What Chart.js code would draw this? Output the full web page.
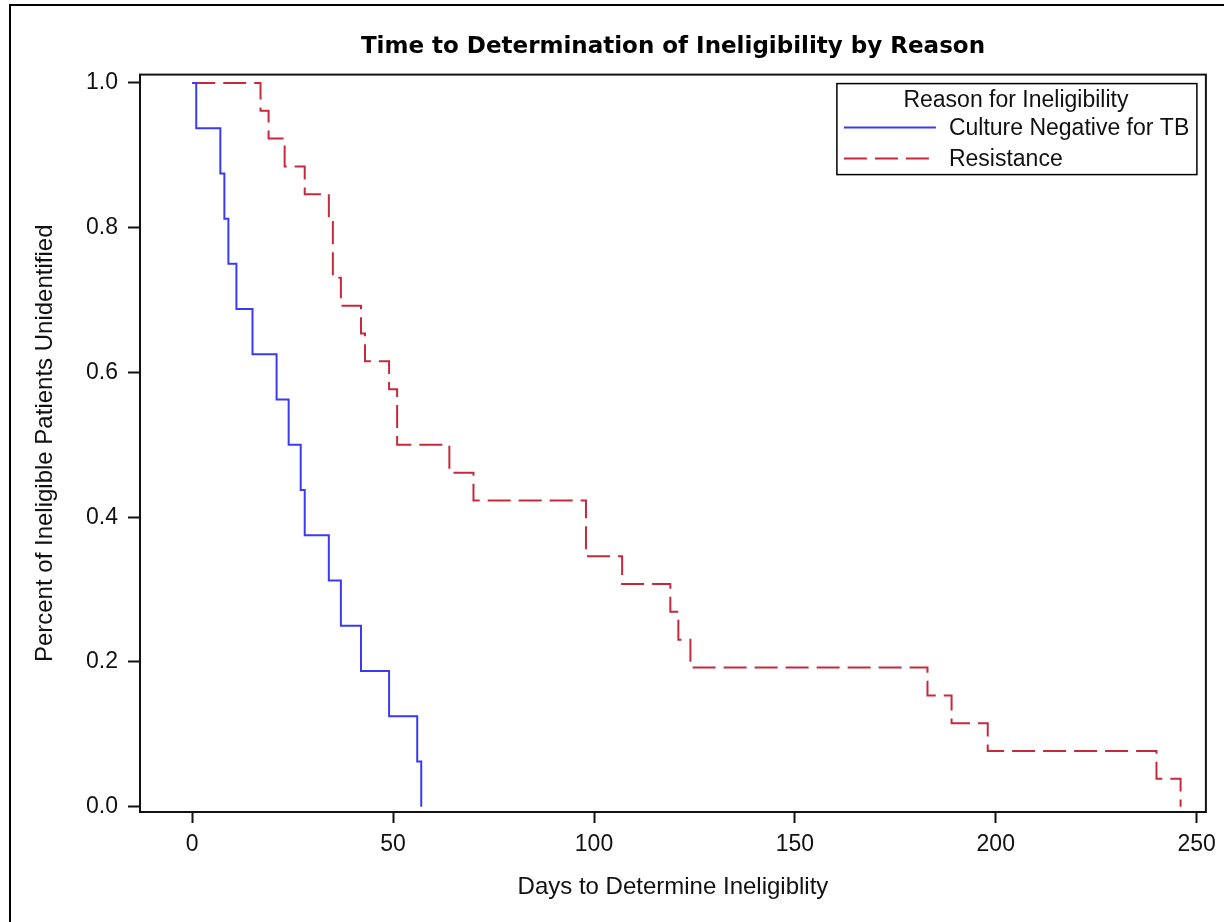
<!DOCTYPE html>
<html>
<head>
<meta charset="utf-8">
<script src="https://cdn.jsdelivr.net/npm/chart.js@4.4.0/dist/chart.umd.min.js"></script>
<style>
  html, body { margin: 0; padding: 0; background: #fff; }
  #wrap { width: 1224px; height: 922px; }
</style>
</head>
<body>
<div id="wrap"><canvas id="km" width="1224" height="922"></canvas></div>
<script>
// Kaplan-Meier steps (day of event, fraction still unidentified)
const cultureDays = [0, 1, 7, 8, 9, 11, 15, 21, 24, 27, 28, 34, 37, 42, 49, 56, 57];
const cultureSurv = [1, 0.9375, 0.875, 0.8125, 0.75, 0.6875, 0.625, 0.5625, 0.5,
	0.4375, 0.375, 0.3125, 0.25, 0.1875, 0.125, 0.0625, 0];

const resistDays = [0, 17, 19, 23, 28, 34, 35, 37, 42, 43, 49, 51, 64, 70, 98,
	107, 119, 121, 124, 183, 189, 198, 240, 246];
const resistSurv = [1, 0.9615, 0.9231, 0.8846, 0.8462, 0.8077, 0.7308, 0.6923, 0.6538,
	0.6154, 0.5769, 0.5, 0.4615, 0.4231, 0.3462, 0.3077, 0.2692, 0.2308, 0.1923,
	0.1538, 0.1154, 0.0769, 0.0385, 0];

const seriesNames = ["Culture Negative for TB", "Resistance"];
const legendTitle = "Reason for Ineligibility";
const xTicks = [0, 50, 100, 150, 200, 250];
const yTicks = [0, 0.2, 0.4, 0.6, 0.8, 1.0];

const toPoints = (xs, ys) => xs.map((x, i) => ({ x: x, y: ys[i] }));

const FONT = '"Liberation Sans", Arial, sans-serif';

// white page + the thin outer border lines of the original image
const pageFrame = {
	id: 'pageFrame',
	beforeDraw(chart) {
		const ctx = chart.ctx;
		ctx.save();
		ctx.fillStyle = '#fff';
		ctx.fillRect(0, 0, chart.width, chart.height);
		ctx.strokeStyle = '#000';
		ctx.lineWidth = 2;
		ctx.beginPath();
		ctx.moveTo(10, chart.height);
		ctx.lineTo(10, 5);
		ctx.lineTo(chart.width, 5);
		ctx.stroke();
		ctx.restore();
	},
	afterDatasetsDraw(chart) {
		const { ctx, chartArea } = chart;
		ctx.save();
		ctx.strokeStyle = '#111';
		ctx.lineWidth = 2;
		ctx.strokeRect(chartArea.left, chartArea.top,
			chartArea.right - chartArea.left, chartArea.bottom - chartArea.top);
		ctx.restore();
	}
};

// boxed legend in the upper right corner of the plot
const legendBox = {
	id: 'legendBox',
	afterDraw(chart) {
		const { ctx, chartArea } = chart;
		const w = 360, h = 91;
		const right = chartArea.right - 9;
		const top = chartArea.top + 9;
		const left = right - w;
		ctx.save();
		ctx.fillStyle = '#fff';
		ctx.fillRect(left, top, w, h);
		ctx.strokeStyle = '#000';
		ctx.lineWidth = 1.5;
		ctx.strokeRect(left, top, w, h);
		ctx.font = '23px ' + FONT;
		ctx.fillStyle = '#111';
		ctx.textBaseline = 'middle';
		ctx.textAlign = 'center';
		ctx.fillText(legendTitle, left + w / 2 - 1, top + 17);
		ctx.textAlign = 'left';
		chart.data.datasets.forEach((ds, i) => {
			const y = top + 44 + i * 31;
			ctx.strokeStyle = ds.borderColor;
			ctx.lineWidth = 2;
			ctx.setLineDash(ds.borderDash || []);
			ctx.beginPath();
			ctx.moveTo(left + 7, y);
			ctx.lineTo(left + 99, y);
			ctx.stroke();
			ctx.setLineDash([]);
			ctx.fillText(ds.label, left + 112, y + 1);
		});
		ctx.restore();
	}
};

new Chart('km', {
	type: 'line',
	data: {
		datasets: [
			{
				label: seriesNames[0],
				data: toPoints(cultureDays, cultureSurv),
				stepped: true,
				borderColor: 'rgb(58, 58, 240)',
				borderWidth: 2,
				pointRadius: 0,
				fill: false,
			},
			{
				label: seriesNames[1],
				data: toPoints(resistDays, resistSurv),
				stepped: true,
				borderColor: 'rgb(198, 40, 60)',
				borderWidth: 2,
				borderDash: [23, 8],
				pointRadius: 0,
				fill: false,
			},
		],
	},
	options: {
		responsive: false,
		animation: false,
		devicePixelRatio: 1,
		layout: { padding: { left: 0, right: 17, top: 0, bottom: 0 } },
		plugins: {
			legend: { display: false },
			tooltip: { enabled: false },
			title: {
				display: true,
				fullSize: false,
				text: "Time to Determination of Ineligibility by Reason",
				color: '#000',
				font: { family: '"DejaVu Sans", sans-serif', size: 23, weight: 'bold' },
				padding: { top: 33, bottom: 14 },
			},
		},
		scales: {
			x: {
				type: 'linear',
				min: -13,
				max: 252.3,
				afterBuildTicks: (scale) => { scale.ticks = xTicks.map(v => ({ value: v })); },
				afterFit: (scale) => { scale.height = 110; },
				border: { display: false },
				grid: {
					drawOnChartArea: false,
					drawTicks: true,
					tickLength: 11,
					tickWidth: 2,
					tickColor: '#111',
				},
				ticks: {
					color: '#111',
					padding: 8,
					maxRotation: 0,
					font: { family: FONT, size: 23 },
					callback: (v) => String(v),
				},
				title: {
					display: true,
					text: "Days to Determine Ineligiblity",
					color: '#111',
					font: { family: FONT, size: 24 },
					padding: { top: 0, bottom: 20 },
				},
			},
			y: {
				type: 'linear',
				min: -0.0073,
				max: 1.0115,
				afterBuildTicks: (scale) => { scale.ticks = yTicks.map(v => ({ value: v })); },
				afterFit: (scale) => { scale.width = 140; },
				border: { display: false },
				grid: {
					drawOnChartArea: false,
					drawTicks: true,
					tickLength: 12,
					tickWidth: 2,
					tickColor: '#111',
				},
				ticks: {
					color: '#111',
					padding: 10,
					font: { family: FONT, size: 23 },
					callback: (v) => Number(v).toFixed(1),
				},
				title: {
					display: true,
					text: "Percent of Ineligible Patients Unidentified",
					color: '#111',
					font: { family: FONT, size: 24 },
					padding: { top: 31, bottom: 0 },
				},
			},
		},
	},
	plugins: [pageFrame, legendBox],
});
</script>
</body>
</html>
